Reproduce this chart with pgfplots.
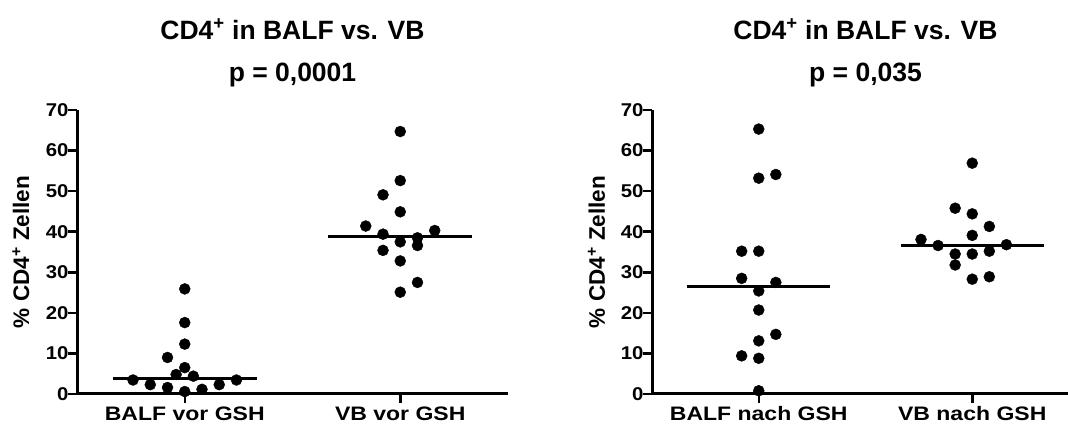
\documentclass[border=0pt]{standalone}
\usepackage{pgfplots}
\pgfplotsset{compat=1.18}
\usepackage{fontspec}
\setmainfont{Liberation Sans}

\pgfplotsset{
  prism/.style={
    scale only axis, height=284pt, anchor=south west,
    xmin=-0.5, xmax=1.5, ymin=0, ymax=70,
    axis lines=left, axis line style={-, line width=3pt},
    xtick={0,1}, ytick={0,10,...,70},
    tick align=outside, major tick length=9pt,
    major tick style={line width=2.5pt, black},
    /pgf/number format/assume math mode=true,
    yticklabel style={font=\bfseries\fontsize{18.5}{18.5}\selectfont, xscale=1.1, xshift=4pt},
    xticklabel style={font=\bfseries\fontsize{19.5}{19.5}\selectfont, xscale=1.18, anchor=north},
    ylabel={\% CD4\textsuperscript{+} Zellen},
    ylabel style={font=\bfseries\fontsize{22.5}{22.5}\selectfont, at={(axis description cs:-0.13,0.5)}, anchor=center},
    clip=false,
  },
  dots/.style={only marks, mark=*, mark size=5.5pt, black, mark options={fill=black}},
  med/.style={no marks, line width=3pt, black},
}
\tikzset{ttl/.style={font=\bfseries\fontsize{26.5}{26.5}\selectfont, anchor=base}}

\begin{document}
\begin{tikzpicture}
\useasboundingbox (0,0) rectangle (1068pt,428pt);
\clip (0,0) rectangle (1068pt,428pt);

% left panel: vor GSH
\begin{axis}[prism, at={(77pt,34pt)}, width=431pt,
  xticklabels={BALF vor GSH, VB vor GSH}]
\addplot[dots] coordinates {
  (0,25.9) (0,17.6) (0,12.3) (-0.08,9.0) (0,6.5) (-0.04,4.8) (0.04,4.4)
  (-0.24,3.45) (0.24,3.45) (-0.16,2.3) (0.16,2.3) (-0.08,1.6) (0.08,1.15) (0,0.6)
};
\addplot[dots] coordinates {
  (1,64.7) (1,52.6) (0.92,49.1) (1,44.9) (0.84,41.4) (1.16,40.3) (0.92,39.4)
  (1.08,38.5) (1,37.5) (1.08,36.6) (0.92,35.4) (1,32.8) (1.08,27.5) (1,25.1)
};
\addplot[med] coordinates {(-0.335,3.9) (0.335,3.9)};
\addplot[med] coordinates {(0.665,38.9) (1.335,38.9)};
\node[ttl, yshift=71pt] at (rel axis cs:0.5,1) {CD4\textsuperscript{+} in BALF vs. VB};
\node[ttl, yshift=29pt] at (rel axis cs:0.5,1) {p = 0,0001};
\end{axis}

% right panel: nach GSH
\begin{axis}[prism, at={(652pt,34pt)}, width=427pt,
  xticklabels={BALF nach GSH, VB nach GSH}]
\addplot[dots] coordinates {
  (0,65.3) (0,53.2) (0.08,54.1) (-0.08,35.2) (0,35.2) (-0.08,28.5) (0.08,27.5)
  (0,25.4) (0,20.7) (0.08,14.7) (0,13.1) (-0.08,9.4) (0,8.8) (0,0.8)
};
\addplot[dots] coordinates {
  (1,56.9) (0.92,45.8) (1,44.4) (1.08,41.3) (1,39.1) (0.76,38.1) (0.84,36.6)
  (1.16,36.8) (0.92,34.5) (1,34.5) (1.08,35.2) (0.92,31.8) (1,28.3) (1.08,28.9)
};
\addplot[med] coordinates {(-0.335,26.5) (0.335,26.5)};
\addplot[med] coordinates {(0.665,36.7) (1.335,36.7)};
\node[ttl, yshift=71pt] at (rel axis cs:0.5,1) {CD4\textsuperscript{+} in BALF vs. VB};
\node[ttl, yshift=29pt] at (rel axis cs:0.5,1) {p = 0,035};
\end{axis}
\end{tikzpicture}
\end{document}
